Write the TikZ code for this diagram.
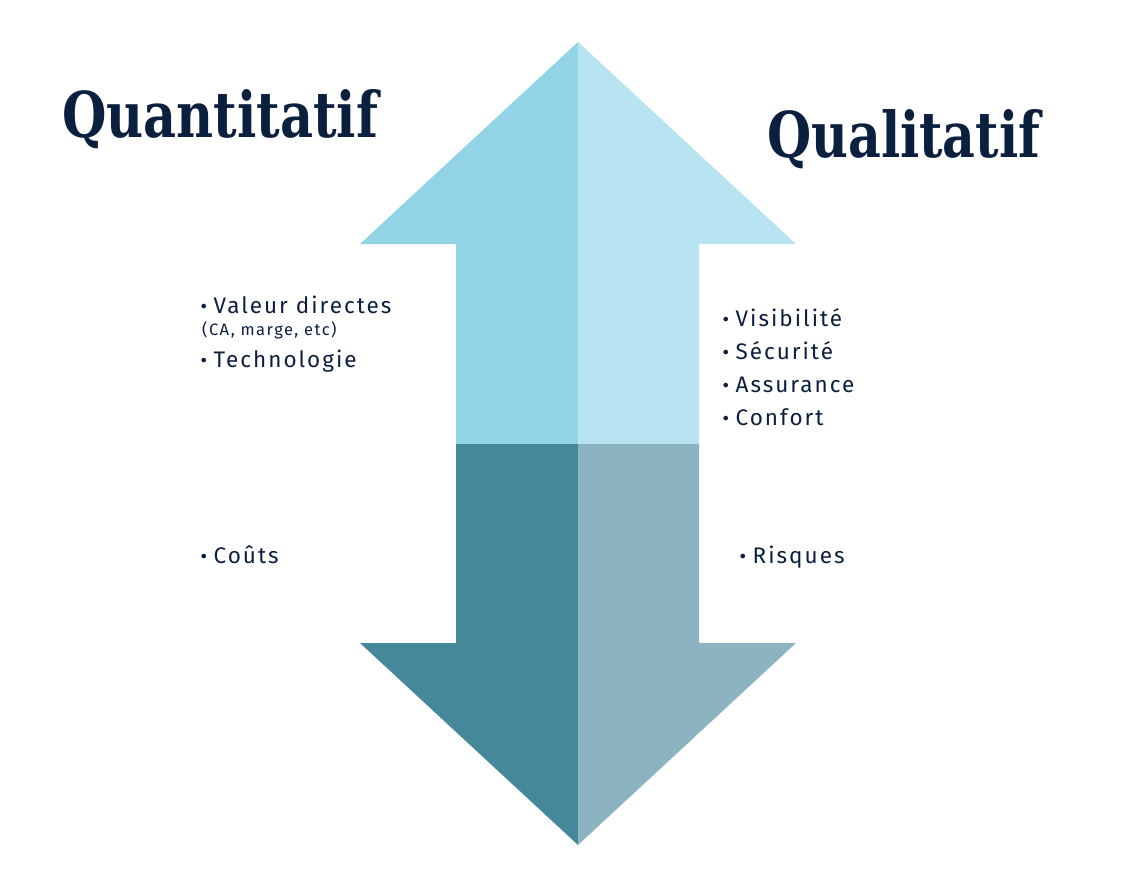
\documentclass[tikz,border=0pt]{standalone}
\usepackage{fontspec}
\setmainfont{Fira Sans}[LetterSpace=9]
\newfontfamily\titlefont{DejaVu Serif}
\newfontfamily\bulfont{DejaVu Sans}
\definecolor{navy}{HTML}{0B1F3F}
\definecolor{upL}{HTML}{92D3E6}
\definecolor{upR}{HTML}{B8E3F0}
\definecolor{dnL}{HTML}{44889A}
\definecolor{dnR}{HTML}{8BB3C0}
\tikzset{
  titletxt/.style={anchor=base west, inner sep=0pt, text=navy, font=\titlefont\bfseries\fontsize{58}{60}\selectfont},
  item/.style={anchor=base west, inner sep=0pt, text=navy, font=\fontsize{22.5}{26}\selectfont},
  subitem/.style={anchor=base west, inner sep=0pt, text=navy, font=\fontsize{16.5}{19}\selectfont},
}
\newcommand{\bul}{{\bulfont\fontsize{16}{16}\selectfont\raisebox{0.5pt}{•}}\hspace{5pt}}
\begin{document}
\begin{tikzpicture}[x=1pt,y=-1pt]
\useasboundingbox (0,0) rectangle (1144,884);
% upper arrow
\fill[upL] (578,42) -- (360,244) -- (456,244) -- (456,444) -- (578,444) -- cycle;
\fill[upR] (578,42) -- (796,244) -- (699,244) -- (699,444) -- (578,444) -- cycle;
% lower arrow
\fill[dnL] (578,845) -- (360,643) -- (456,643) -- (456,444) -- (578,444) -- cycle;
\fill[dnR] (578,845) -- (796,643) -- (699,643) -- (699,444) -- (578,444) -- cycle;
% titles
\node[titletxt] (tq) at (62,137) {\resizebox{316pt}{48pt}{Quantitatif}};
\node[titletxt] (tl) at (767,157) {\resizebox{273pt}{48pt}{Qualitatif}};
% left items
\node[item] (v) at (199,313) {\bul Valeur directes};
\node[subitem] (ca) at (202,335) {(CA, marge, etc)};
\node[item] (te) at (199,367) {\bul Technologie};
\node[item] (co) at (199,563) {\bul Coûts};
% right items
\node[item] (vi) at (721,326) {\bul Visibilité};
\node[item] (se) at (721,359) {\bul Sécurité};
\node[item] (as) at (721,392) {\bul Assurance};
\node[item] (cf) at (721,425) {\bul Confort};
\node[item] (ri) at (738,563) {\bul Risques};
\end{tikzpicture}
\end{document}
